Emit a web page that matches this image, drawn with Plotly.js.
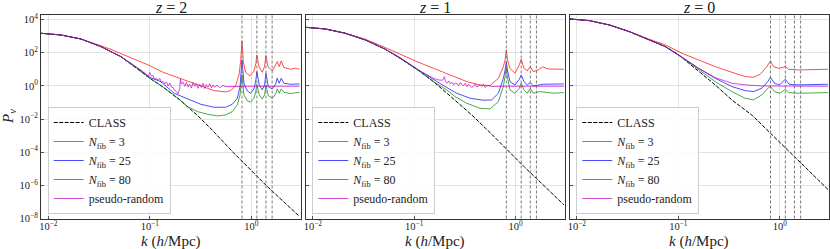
<!DOCTYPE html>
<html><head><meta charset="utf-8">
<script src="https://cdn.plot.ly/plotly-3.0.1.min.js"></script>
<style>html,body{margin:0;padding:0;background:#fff;}#chart{width:830px;height:249px;}</style>
</head><body><div id="chart"></div>
<script>
// ---------- data ----------
const kLines = [0.81, 1.135, 1.395, 1.605];
const tickK = [0.01, 0.1, 1];
const tickKText = ['10<sup>\u22122</sup>', '10<sup>\u22121</sup>', '10<sup>0</sup>'];
const tickP = [1e4, 1e2, 1, 1e-2, 1e-4, 1e-6, 1e-8];
const tickPText = ['10<sup>4</sup>', '10<sup>2</sup>', '10<sup>0</sup>', '10<sup>\u22122</sup>', '10<sup>\u22124</sup>', '10<sup>\u22126</sup>', '10<sup>\u22128</sup>'];
const panelTitles = ['<i>z</i> = 2', '<i>z</i> = 1', '<i>z</i> = 0'];
const seriesNames = ['CLASS', '<i>N</i><sub>fib</sub> = 3', '<i>N</i><sub>fib</sub> = 25', '<i>N</i><sub>fib</sub> = 80', 'pseudo-random'];

// z = 2
const z2ClassK = [0.00847,0.01333,0.02095,0.0330,0.0519,0.0636,0.0815,0.100,0.1352,0.1973,0.2985,0.4044,0.6607,1.405,2.989];
const z2ClassP = [1500,1189,682,235,58.7,23.3,8.03,2.90,0.85,0.143,0.0155,0.00244,1.0e-4,9.77e-7,1.32e-8];
const z2N3K = [0.00847,0.01333,0.02095,0.0330,0.0413,0.0519,0.0701,0.100,0.1352,0.1973,0.2877,0.4295,0.5598,0.6266,0.7015,0.7568,0.785,0.81,0.834,0.8796,0.9703,1.062,1.111,1.135,1.190,1.283,1.352,1.395,1.459,1.609,1.735,1.803,1.886,1.973,2.096,2.438,2.730,2.989];
const z2N3P = [1500,1189,682,258,163,89.1,40.5,16.8,6.67,2.90,1.32,0.523,0.435,0.523,1.05,4.61,29.3,517,29.3,6.67,4.01,8.03,23.3,74.0,14.6,6.67,14.6,67.5,14.6,8.03,18.5,29.3,14.6,32.2,12.8,10.1,11.6,10.1];
const z2N25K = [0.00847,0.01333,0.02095,0.0330,0.0519,0.0701,0.100,0.1283,0.1735,0.2345,0.3175,0.4295,0.5598,0.6501,0.7278,0.7745,0.81,0.8470,0.9135,0.9850,1.062,1.111,1.135,1.199,1.283,1.352,1.395,1.470,1.609,1.735,1.803,1.886,1.973,2.096,2.438,2.989];
const z2N25P = [1500,1189,682,235,58.7,17,3.3,1.82,0.361,0.164,0.0784,0.0517,0.0517,0.0784,0.180,0.912,37.0,1.45,0.499,0.361,0.659,2.30,7.32,1.15,0.574,1.15,5.81,0.912,0.659,1.26,2.90,1.45,2.90,1.45,1.26,1.32];
const z2N80K = [0.00847,0.01333,0.02095,0.0330,0.0519,0.0701,0.100,0.1352,0.1973,0.2345,0.2944,0.3690,0.4634,0.5598,0.6501,0.7278,0.7745,0.81,0.8470,0.9135,0.9850,1.062,1.111,1.135,1.199,1.283,1.352,1.395,1.470,1.609,1.735,1.803,1.886,1.973,2.096,2.438,2.989];
const z2N80P = [1500,1189,682,235,58.7,16,2.90,0.870,0.15,0.0567,0.0283,0.0196,0.0155,0.0178,0.0283,0.0715,0.287,4.61,0.287,0.125,0.104,0.180,0.499,1.26,0.287,0.164,0.287,1.15,0.261,0.180,0.314,0.659,0.361,0.659,0.415,0.345,0.415];
const z2PrK = [0.00847,0.01333,0.02095,0.0330,0.0519,0.0636,0.0860,0.0963,0.100,0.1038,0.1079,0.1120,0.1163,0.1208,0.1254,0.1302,0.1352,0.1405,0.1459,0.1515,0.1573,0.1634,0.1698,0.1762,0.1829,0.1901,0.1973,0.2003,0.2048,0.2128,0.2210,0.2294,0.2383,0.2472,0.2570,0.2667,0.2772,0.2877,0.2985,0.3105,0.3224,0.3347,0.3477,0.3607,0.3750,0.3890,0.4044,0.4199,0.4355,0.4592,0.4887,0.5260,0.5675,0.6761,0.9135,1.671,2.989];
const z2PrP = [1500,1189,682,235,58.7,23.3,7.32,3.66,6.5,4.0,4.2,2.4,2.9,2.2,2.9,1.6,1.9,1.35,1.75,1.0,1.5,0.85,0.80,0.52,0.45,0.33,0.70,2.6,1.3,1.7,0.95,1.6,0.85,1.3,0.75,1.55,0.95,1.35,0.72,1.25,0.80,1.45,0.70,1.2,0.85,1.35,0.78,1.15,0.85,1.1,0.78,1.05,0.90,0.955,0.955,0.955,0.955];

// z = 1
const z1ClassK = [0.00847,0.01333,0.02095,0.0330,0.0519,0.0728,0.1062,0.1549,0.2259,0.3690,0.5808,0.8470,1.235,1.943,2.989];
const z1ClassP = [3451,2735,1500,594,163,46.6,10.1,1.82,0.249,0.0178,0.00122,1.20e-4,1.19e-5,8.51e-7,6.67e-8];
const z1N3K = [0.00847,0.01333,0.02095,0.0330,0.0519,0.0728,0.1062,0.1549,0.2259,0.3297,0.4457,0.5598,0.6761,0.7568,0.785,0.81,0.834,0.8796,0.9850,1.087,1.135,1.208,1.303,1.395,1.492,1.671,1.844,2.096,2.989];
const z1N3P = [3451,2735,1500,652,205,81.2,29.3,11.6,4.61,1.82,1.15,1.05,2.90,14.6,35,148,35,11.6,5.81,18.5,40.5,11.6,8.03,14.6,7.32,9.22,14.0,10.6,10.1];
const z1N25K = [0.00847,0.01333,0.02095,0.0330,0.0519,0.0728,0.1062,0.1549,0.1945,0.2628,0.3556,0.481,0.5808,0.6761,0.7568,0.785,0.81,0.834,0.8796,0.9850,1.087,1.135,1.208,1.303,1.395,1.492,1.872,2.989];
const z1N25P = [3451,2735,1500,594,163,46.6,10.1,2.30,1.05,0.361,0.180,0.137,0.143,0.361,2.90,8,29.3,8,1.82,1.15,2.52,4.61,1.82,1.15,1.59,1.0,1.26,1.32];
const z1N80K = [0.00847,0.01333,0.02095,0.0330,0.0519,0.0728,0.1062,0.1549,0.2095,0.2530,0.3297,0.4457,0.5598,0.6761,0.7568,0.785,0.81,0.834,0.8796,0.9850,1.087,1.135,1.208,1.303,1.395,1.492,1.735,2.348,2.989];
const z1N80P = [3451,2735,1500,594,163,46.6,10.1,1.82,0.574,0.227,0.0901,0.0450,0.0410,0.114,0.912,3,11.6,3,0.574,0.361,0.723,1.45,0.574,0.361,0.723,0.361,0.455,0.361,0.396];
const z1PrK = [0.00847,0.01333,0.02095,0.0330,0.0519,0.0728,0.1146,0.1549,0.1735,0.1901,0.1987,0.2033,0.2111,0.2191,0.2275,0.2362,0.2453,0.2547,0.2644,0.2745,0.2850,0.2959,0.3073,0.3190,0.3312,0.3439,0.3571,0.3708,0.3850,0.3997,0.4150,0.4309,0.4474,0.4645,0.4823,0.5008,0.5200,0.5399,0.5808,0.7278,1.671,2.989];
const z1PrP = [3451,2735,1500,594,163,51.1,8.03,2.90,2.30,2.20,3.66,1.82,1.45,2.00,1.32,1.66,1.15,1.52,1.38,1.05,1.59,1.15,1.05,1.45,0.912,1.26,1.0,0.793,1.05,1.26,0.870,1.05,1.15,0.912,1.26,0.793,1.0,1.05,0.912,0.955,0.955,0.955];

// z = 0
const z0ClassK = [0.00847,0.01333,0.02095,0.0330,0.0519,0.0745,0.0993,0.1585,0.2312,0.3371,0.5383,1.146,1.671,2.989];
const z0ClassP = [11000,8710,4764,1889,594,235,81.2,7.32,1.15,0.143,0.0163,1.74e-4,1.80e-5,5.61e-7];
const z0N3K = [0.00847,0.01333,0.02095,0.0330,0.0519,0.0745,0.1087,0.1585,0.2312,0.3371,0.4560,0.5508,0.6412,0.7447,0.81,0.8665,0.9703,1.087,1.135,1.217,1.526,2.989];
const z0N3P = [11000,8710,4764,1889,652,297,93.3,37.0,14.6,6.67,3.66,3.33,5.05,14.6,32.2,14.6,11.6,13.4,15.3,10.1,9.22,10.1];
const z0N25K = [0.00847,0.01333,0.02095,0.0330,0.0519,0.0745,0.1087,0.1585,0.2312,0.3371,0.4560,0.5508,0.6653,0.7621,0.81,0.8861,0.9925,1.135,1.235,1.526,2.989];
const z0N25P = [11000,8710,4764,1889,594,235,54,11.6,2.90,0.912,0.523,0.455,0.723,1.82,3.33,1.45,1.15,2.52,1.26,1.15,1.26];
const z0N80K = [0.00847,0.01333,0.02095,0.0330,0.0519,0.0745,0.1087,0.1585,0.2312,0.3371,0.4560,0.5508,0.6653,0.7745,0.81,0.8861,1.0076,1.135,1.235,1.526,2.989];
const z0N80P = [11000,8710,4764,1889,594,235,52,9.22,1.82,0.455,0.180,0.143,0.287,0.793,0.912,0.455,0.361,0.630,0.396,0.361,0.396];
const z0PrK = [0.00847,0.01333,0.02095,0.0330,0.0519,0.0745,0.1087,0.1585,0.2312,0.3371,0.4560,0.6653,2.989];
const z0PrP = [11000,8710,4764,1889,594,235,54,11.6,3.18,1.45,1.15,1.0,0.955];

// ---------- styling ----------
const SERIF = "'Liberation Serif', 'Times New Roman', serif";
const seriesStyle = [
  {color: '#000000', dash: '4px,1.5px', opacity: 1},
  {color: '#ff0000', dash: 'solid', opacity: 0.7},
  {color: '#0000ff', dash: 'solid', opacity: 0.7},
  {color: '#008000', dash: 'solid', opacity: 0.7},
  {color: '#bf00bf', dash: 'solid', opacity: 0.7}
];
const panels = [
  {series: [[z2ClassK, z2ClassP], [z2N3K, z2N3P], [z2N25K, z2N25P], [z2N80K, z2N80P], [z2PrK, z2PrP]]},
  {series: [[z1ClassK, z1ClassP], [z1N3K, z1N3P], [z1N25K, z1N25P], [z1N80K, z1N80P], [z1PrK, z1PrP]]},
  {series: [[z0ClassK, z0ClassP], [z0N3K, z0N3P], [z0N25K, z0N25P], [z0N80K, z0N80P], [z0PrK, z0PrP]]}
];
const W = 830, H = 249;
const xDomains = [[41 / W, 300.5 / W], [305.5 / W, 564.8 / W], [569.5 / W, 829 / W]];
const yDomain = [1 - 218.5 / H, 1 - 15 / H];
const legendX = [47.7 / W, 312.3 / W, 576.3 / W];

const traces = [];
const layout = {
  width: W, height: H,
  margin: {l: 0, r: 0, t: 0, b: 0},
  paper_bgcolor: '#ffffff', plot_bgcolor: '#ffffff',
  font: {family: SERIF, color: '#222'},
  shapes: [], annotations: []
};

panels.forEach((p, i) => {
  const n = i === 0 ? '' : String(i + 1);
  const legName = 'legend' + n;
  p.series.forEach((s, j) => {
    const st = seriesStyle[j];
    traces.push({
      type: 'scatter', mode: 'lines', x: s[0], y: s[1],
      xaxis: 'x' + n, yaxis: 'y' + n, legend: legName,
      name: seriesNames[j], opacity: st.opacity,
      line: {color: st.color, width: 1, dash: st.dash},
      hoverinfo: 'skip'
    });
  });
  const axCommon = {
    type: 'log', showgrid: true, gridcolor: '#dcdcdc', gridwidth: 0.8,
    showline: true, mirror: true, linecolor: '#333', linewidth: 1,
    ticklen: 3, tickwidth: 0.8, tickcolor: '#333',
    tickfont: {family: SERIF, size: 10.5, color: '#222'}, zeroline: false
  };
  layout['xaxis' + n] = Object.assign({}, axCommon, {
    domain: xDomains[i], anchor: 'y' + n, range: [-2.072, 0.485], ticks: 'inside',
    tickmode: 'array', tickvals: tickK, ticktext: tickKText, ticklabelstandoff: -2
  });
  layout['yaxis' + n] = Object.assign({}, axCommon, {
    domain: yDomain, anchor: 'x' + n, range: [-8, 4.28], ticks: 'inside',
    tickmode: 'array', tickvals: tickP, ticktext: tickPText,
    showticklabels: i === 0
  });
  layout[legName] = {
    x: legendX[i], y: 1 - 214 / H, xanchor: 'left', yanchor: 'bottom',
    xref: 'paper', yref: 'paper',
    bgcolor: 'rgba(255,255,255,0.85)', bordercolor: '#cccccc', borderwidth: 1,
    font: {family: SERIF, size: 12, color: '#222'}, tracegroupgap: 0, traceorder: 'normal'
  };
  kLines.forEach(k => {
    layout.shapes.push({
      type: 'line', xref: 'x' + n, yref: 'y' + n + ' domain',
      x0: k, x1: k, y0: 0, y1: 1,
      line: {color: '#6a6a6a', width: 0.9, dash: '3px,2px'}
    });
  });
  const cx = (xDomains[i][0] + xDomains[i][1]) / 2;
  layout.annotations.push({
    text: panelTitles[i], xref: 'paper', yref: 'paper', x: cx, y: 1 - 8 / H,
    xanchor: 'center', yanchor: 'middle', showarrow: false,
    font: {family: SERIF, size: 16, color: '#222'}
  });
  layout.annotations.push({
    text: '<i>k</i> (<i>h</i>/Mpc)', xref: 'paper', yref: 'paper', x: cx, y: 1 - 241.5 / H,
    xanchor: 'center', yanchor: 'middle', showarrow: false,
    font: {family: SERIF, size: 15, color: '#222'}
  });
});
layout.annotations.push({
  text: '<i>P</i><sub><i>\u03bd</i></sub>', xref: 'paper', yref: 'paper', x: 9 / W, y: 1 - 117 / H,
  xanchor: 'center', yanchor: 'middle', showarrow: false, textangle: -90,
  font: {family: SERIF, size: 15, color: '#222'}
});

Plotly.newPlot('chart', traces, layout, {staticPlot: true, displayModeBar: false});
</script>
</body></html>
